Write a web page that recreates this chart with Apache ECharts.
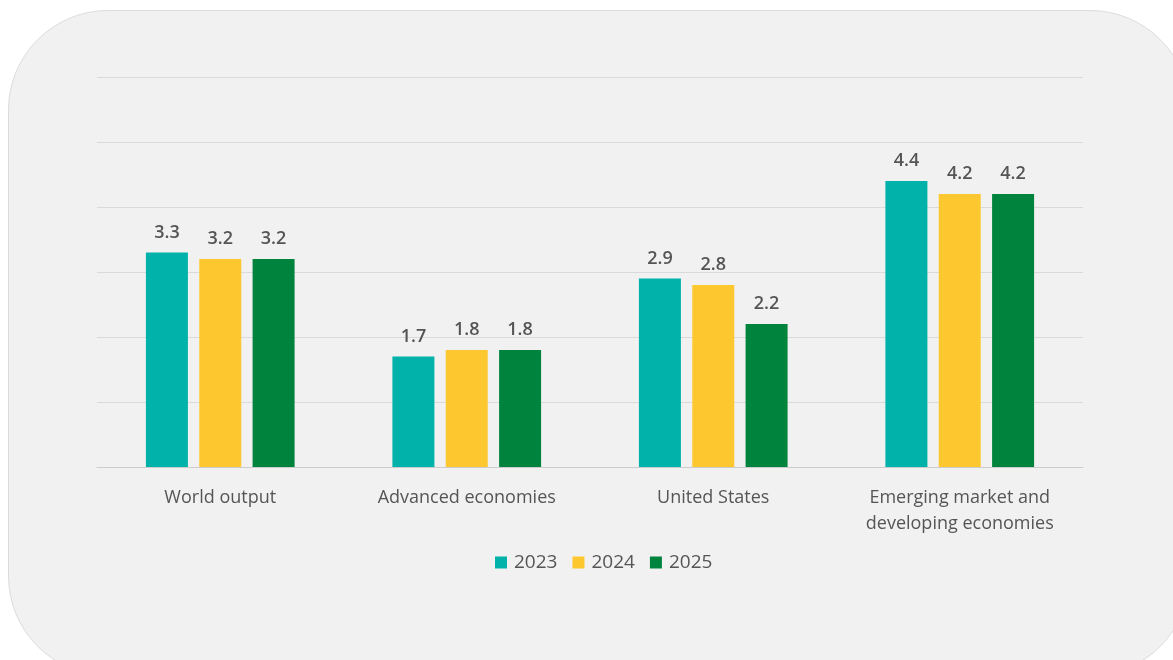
<!DOCTYPE html>
<html>
<head>
<meta charset="utf-8">
<script src="https://cdn.jsdelivr.net/npm/echarts@6/dist/echarts.min.js"></script>
<style>
	html, body { margin: 0; padding: 0; background: #ffffff; overflow: hidden; }
	#panel {
		position: absolute; left: 8px; top: 10px; width: 1180px; height: 664px;
		background: #f1f1f1; border-radius: 100px; border: 1px solid #dcdcdc;
	}
	#chart { position: absolute; left: 0; top: 0; width: 1173px; height: 660px; }
</style>
</head>
<body>
<div id="panel"></div>
<div id="chart"></div>
<script>
	// categories and series values
	const categories = ['World output', 'Advanced economies', 'United States', 'Emerging market and\ndeveloping economies'];
	const years = ['2023', '2024', '2025'];
	const values2023 = [3.3, 1.7, 2.9, 4.4];
	const values2024 = [3.2, 1.8, 2.8, 4.2];
	const values2025 = [3.2, 1.8, 2.2, 4.2];
	const colors = ['#00b2a9', '#fdc82f', '#00843d'];

	const fontFam = '"Open Sans", "Noto Sans", sans-serif';

	function makeSeries(name, data, color) {
		return {
			name: name,
			type: 'bar',
			data: data,
			barWidth: 42,
			barGap: '27%',
			itemStyle: { color: color },
			label: {
				show: true,
				position: 'top',
				distance: 11,
				color: '#555555',
				fontSize: 18,
				fontWeight: 600,
				fontFamily: fontFam,
				formatter: function (p) { return p.value.toFixed(1); }
			}
		};
	}

	const chart = echarts.init(document.getElementById('chart'));
	chart.setOption({
		backgroundColor: 'transparent',
		animation: false,
		legend: {
			data: years,
			bottom: 83,
			left: 490,
			itemWidth: 12,
			itemHeight: 12,
			itemGap: 15,
			icon: 'rect',
			textStyle: { fontSize: 19, color: '#555555', fontFamily: fontFam, padding: [0, 0, 0, 2] }
		},
		grid: {
			left: 97,
			right: 90,
			top: 77,
			bottom: 193
		},
		xAxis: {
			type: 'category',
			data: categories,
			axisTick: { show: false },
			axisLine: { lineStyle: { color: '#cccccc', width: 1 } },
			axisLabel: {
				margin: 18,
				fontSize: 18,
				lineHeight: 26,
				color: '#555555',
				fontFamily: fontFam,
				interval: 0
			}
		},
		yAxis: {
			type: 'value',
			min: 0,
			max: 6,
			interval: 1,
			axisLabel: { show: false },
			axisLine: { show: false },
			axisTick: { show: false },
			splitLine: { lineStyle: { color: '#dadada', width: 1 } }
		},
		series: [
			makeSeries(years[0], values2023, colors[0]),
			makeSeries(years[1], values2024, colors[1]),
			makeSeries(years[2], values2025, colors[2])
		]
	});
</script>
</body>
</html>
